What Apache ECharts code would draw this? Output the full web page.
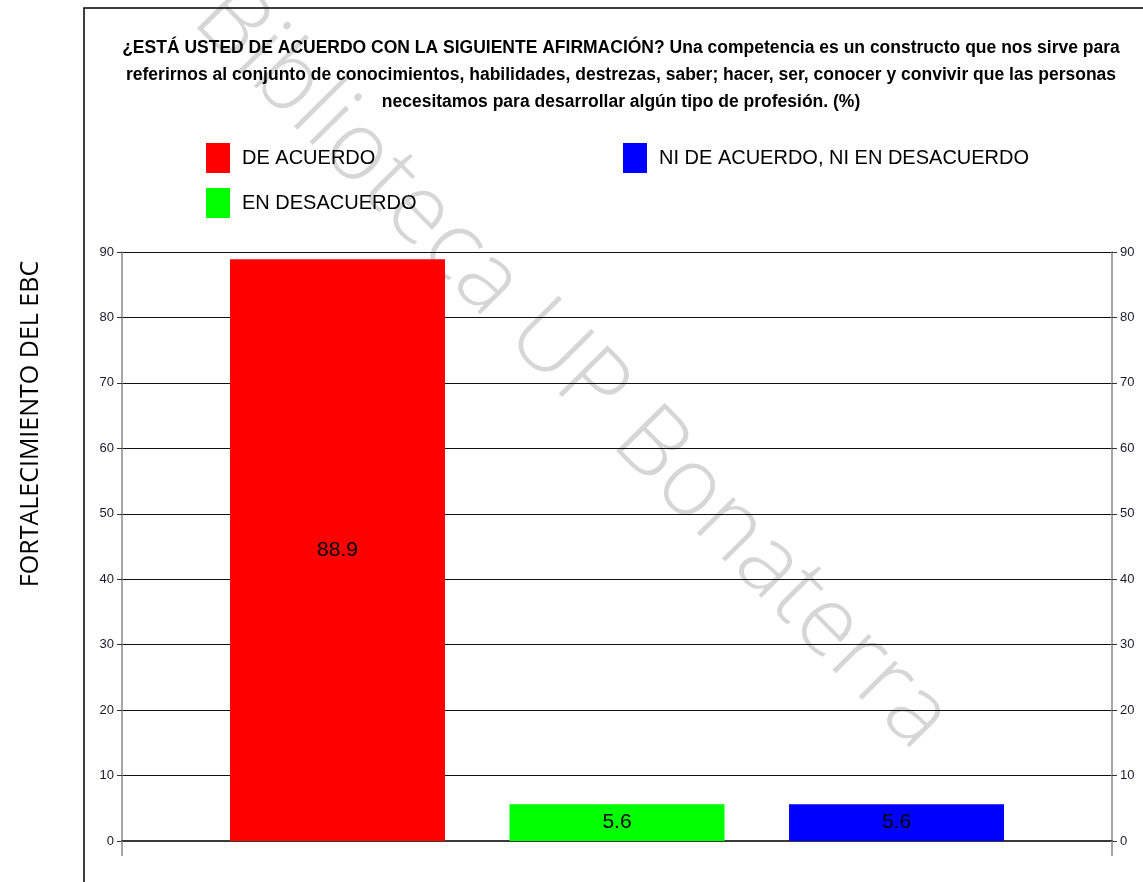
<html>
<head>
<meta charset="UTF-8">
<title>Fortalecimiento del EBC</title>
<script src="https://cdn.jsdelivr.net/npm/echarts@6/dist/echarts.min.js"></script>
<style>
  body { margin: 0; background: #fff; }
  #main { width: 1143px; height: 882px; }
</style>
</head>
<body>
<div id="main"></div>
<script type="text/javascript">
var titulo = '¿ESTÁ USTED DE ACUERDO CON LA SIGUIENTE AFIRMACIÓN? Una competencia es un constructo que nos sirve para\n' +
             'referirnos al conjunto de conocimientos, habilidades, destrezas, saber; hacer, ser, conocer y convivir que las personas\n' +
             'necesitamos para desarrollar algún tipo de profesión. (%)';
var categorias = [''];
var respuestas = ['DE ACUERDO', 'EN DESACUERDO', 'NI DE ACUERDO, NI EN DESACUERDO'];
var valores = [88.9, 5.6, 5.6];
var colores = ['#ff0000', '#00ff00', '#0000ff'];
var ejeMin = 0, ejeMax = 90, ejePaso = 10;

var fuente = '"Liberation Sans", Arial, sans-serif';
var myChart = echarts.init(document.getElementById('main'));

var series = [];
for (var i = 0; i < respuestas.length; i++) {
  series.push({
    name: respuestas[i],
    type: 'bar',
    data: [valores[i]],
    barWidth: 215,
    barGap: '30%',
    itemStyle: { color: colores[i] },
    label: {
      show: true,
      position: 'inside',
      color: '#000',
      fontFamily: fuente,
      fontSize: 21
    }
  });
}

var ejeY = function (pos) {
  return {
    type: 'value',
    position: pos,
    min: ejeMin, max: ejeMax, interval: ejePaso,
    axisLine: { show: true, lineStyle: { color: '#888', width: 1.5 } },
    axisTick: { show: true, length: 5, lineStyle: { color: '#333' } },
    axisLabel: { color: '#1a1a2e', fontFamily: fuente, fontSize: 13, margin: 8 },
    splitLine: { show: pos === 'left', lineStyle: { color: '#111', width: 1 } }
  };
};

var option = {
  backgroundColor: '#fff',
  animation: false,
  title: {
    text: titulo,
    left: 616,
    top: 30,
    textAlign: 'center',
    textStyle: { fontFamily: fuente, fontWeight: 'bold', fontSize: 17.5, lineHeight: 27, color: '#000' }
  },
  legend: [
    {
      data: [respuestas[0], respuestas[1]],
      orient: 'vertical',
      left: 201, top: 138,
      itemWidth: 24, itemHeight: 30, itemGap: 15,
      icon: 'rect',
      textStyle: { fontFamily: fuente, fontSize: 20, color: '#000', padding: [0, 0, 0, 7] }
    },
    {
      data: [respuestas[2]],
      orient: 'vertical',
      left: 618, top: 138,
      itemWidth: 24, itemHeight: 30,
      icon: 'rect',
      textStyle: { fontFamily: fuente, fontSize: 20, color: '#000', padding: [0, 0, 0, 7] }
    }
  ],
  grid: { left: 122, right: 31, top: 252, bottom: 41, containLabel: false },
  xAxis: {
    type: 'category',
    data: categorias,
    axisLine: { show: true, lineStyle: { color: '#3a3a3a', width: 2 } },
    axisTick: { show: false },
    axisLabel: { show: false }
  },
  yAxis: [ejeY('left'), ejeY('right')],
  series: series,
  graphic: [
    {
      type: 'text', z: -10, x: 572, y: 368, rotation: -0.79,
      style: {
        text: 'Biblioteca UP Bonaterra',
        fill: '#d6d6d6',
        fontFamily: '"Open Sans", sans-serif',
        fontWeight: 300,
        fontSize: 96,
        textAlign: 'center',
        textVerticalAlign: 'middle'
      }
    },
    {
      type: 'rect', z: 5, silent: true,
      shape: { x: 84, y: 8, width: 1200, height: 1000 },
      style: { fill: 'none', stroke: '#000', lineWidth: 1.5 }
    },
    {
      type: 'text', x: 31, y: 424, rotation: Math.PI / 2,
      style: {
        text: 'FORTALECIMIENTO DEL EBC',
        fill: '#000',
        fontFamily: '"Open Sans", sans-serif',
        fontSize: 25,
        textAlign: 'center',
        textVerticalAlign: 'middle'
      }
    },
    {
      type: 'line', z: 5,
      shape: { x1: 122, y1: 841, x2: 122, y2: 856 },
      style: { stroke: '#888', lineWidth: 1.5 }
    },
    {
      type: 'line', z: 5,
      shape: { x1: 1112, y1: 841, x2: 1112, y2: 856 },
      style: { stroke: '#888', lineWidth: 1.5 }
    }
  ]
};
myChart.setOption(option);
</script>
</body>
</html>
